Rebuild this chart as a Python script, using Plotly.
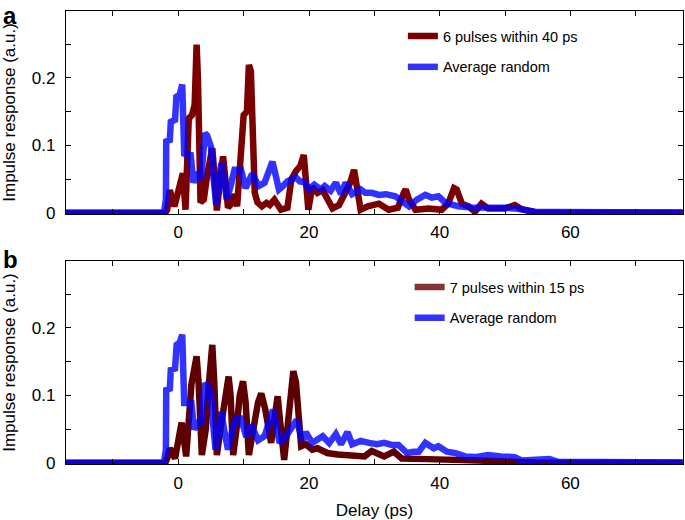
import plotly.graph_objects as go

# ---------------- data ----------------
# Panel a: "6 pulses within 40 ps"
a_red_x = [-17.2, -2.0, -1.7, -1.3, -0.6, 0.2, 0.7, 1.1, 1.4, 1.6, 2.1, 2.5, 2.8, 3.0, 3.4, 3.9, 4.4, 4.9, 5.2, 5.5,
           5.9, 6.4, 6.85, 7.2, 7.6, 8.2, 8.6, 9.0, 9.3, 9.6, 10.0, 10.5, 10.8, 11.1, 11.4, 11.7, 12.1, 12.8, 13.5,
           14.0, 14.7, 15.7, 16.7, 17.3, 18.0, 18.7, 19.2, 19.5, 19.9, 20.5, 21.3, 22.1, 23.0, 23.6, 24.6, 25.6,
           26.3, 26.9, 27.3, 27.9, 29.0, 30.7, 32.2, 33.6, 34.5, 34.8, 35.3, 36.3, 38.3, 40.3, 41.3, 42.2, 42.6,
           43.4, 44.4, 45.4, 46.4, 47.4, 50.0, 51.5, 52.5, 54.0, 55.0, 77.2]
a_red_y = [0.0, 0.0, 0.005, 0.034, 0.01, 0.04, 0.059, 0.005, 0.09, 0.14, 0.145, 0.16, 0.249, 0.2, 0.016, 0.02, 0.055,
           0.09, 0.096, 0.06, 0.004, 0.05, 0.084, 0.05, 0.008, 0.015, 0.028, 0.01, 0.06, 0.106, 0.145, 0.15, 0.219,
           0.21, 0.07, 0.03, 0.016, 0.01, 0.015, 0.012, 0.02, 0.005, 0.008, 0.05, 0.062, 0.07, 0.086, 0.06, 0.005,
           0.039, 0.03, 0.034, 0.015, 0.007, 0.012, 0.03, 0.045, 0.064, 0.04, 0.005, 0.01, 0.014, 0.005, 0.008,
           0.03, 0.035, 0.02, 0.005, 0.007, 0.005, 0.014, 0.037, 0.035, 0.014, 0.01, 0.002, 0.014, 0.007, 0.007,
           0.012, 0.006, 0.002, 0.0005, 0.0005]

a_blue_x = [-17.2, -2.2, -1.9, -1.85, -1.3, -1.15, -0.5, -0.3, 0.2, 0.35, 0.6, 0.9, 1.9, 2.3, 2.8, 3.5, 4.06, 4.4,
            5.0, 5.3, 5.8, 6.2, 6.6, 7.0, 7.4, 8.0, 8.6, 9.6, 10.3, 11.3, 12.3, 13.2, 13.9, 14.4, 14.8, 15.4, 16.0,
            16.7, 17.5, 18.0, 18.6, 19.3, 20.0, 20.8, 21.8, 22.4, 23.3, 24.1, 24.9, 25.6, 26.6, 27.9, 28.6, 29.6,
            30.7, 31.8, 33.2, 34.0, 35.3, 36.5, 37.8, 38.8, 39.8, 40.9, 42.9, 44.9, 47.4, 50.0, 52.0, 54.5, 57.5,
            77.2]
a_blue_y = [0.001, 0.001, 0.02, 0.106, 0.108, 0.135, 0.138, 0.172, 0.175, 0.19, 0.19, 0.088, 0.086, 0.045, 0.06,
            0.05, 0.118, 0.115, 0.098, 0.06, 0.012, 0.05, 0.074, 0.05, 0.02, 0.04, 0.064, 0.064, 0.037, 0.058, 0.04,
            0.045, 0.066, 0.076, 0.06, 0.035, 0.04, 0.047, 0.05, 0.053, 0.047, 0.046, 0.035, 0.042, 0.035, 0.04,
            0.033, 0.045, 0.028, 0.045, 0.028, 0.035, 0.03, 0.03, 0.027, 0.028, 0.025, 0.02, 0.01, 0.02, 0.027,
            0.023, 0.025, 0.015, 0.01, 0.0085, 0.009, 0.008, 0.0065, 0.002, 0.0015, 0.001]

# Panel b: "7 pulses within 15 ps"
b_red_x = [-17.2, -2.0, -1.6, -1.3, -0.5, 0.0, 0.5, 1.2, 1.6, 2.0, 2.8, 3.1, 3.6, 4.2, 4.7, 5.2, 5.5, 5.9, 6.6, 7.2,
           7.7, 8.0, 8.4, 8.9, 9.4, 9.9, 10.3, 10.8, 11.4, 12.2, 12.7, 13.3, 14.2, 14.8, 15.2, 15.6, 16.2, 17.0,
           17.6, 18.0, 18.8, 19.5, 20.5, 21.3, 22.8, 24.4, 25.9, 27.4, 28.5, 29.6, 30.3, 31.5, 33.0, 34.2, 38.0,
           43.3, 45.9, 51.0, 55.0, 77.2]
b_red_y = [0.0, 0.0, 0.01, 0.022, 0.007, 0.03, 0.06, 0.01, 0.06, 0.116, 0.158, 0.12, 0.012, 0.05, 0.12, 0.175, 0.12,
           0.012, 0.06, 0.1, 0.128, 0.1, 0.012, 0.05, 0.1, 0.121, 0.09, 0.012, 0.05, 0.09, 0.103, 0.08, 0.03, 0.08,
           0.099, 0.06, 0.005, 0.08, 0.136, 0.12, 0.025, 0.028, 0.02, 0.022, 0.015, 0.013, 0.012, 0.009, 0.01,
           0.018, 0.015, 0.01, 0.017, 0.007, 0.006, 0.006, 0.004, 0.002, 0.0005, 0.0005]

b_blue_x = [-17.2, -2.2, -1.9, -1.85, -1.3, -1.15, -0.5, -0.25, 0.2, 0.36, 0.6, 0.9, 2.0, 2.4, 3.0, 3.5, 4.06, 4.4,
            5.0, 5.3, 5.7, 6.2, 6.6, 7.0, 7.6, 8.3, 8.9, 9.6, 10.4, 11.2, 12.2, 13.2, 14.0, 14.5, 14.9, 15.5, 16.5,
            17.4, 18.1, 19.0, 19.5, 20.5, 21.3, 22.1, 23.1, 24.1, 24.9, 25.9, 26.6, 27.9, 29.2, 30.4, 31.5, 32.7,
            33.7, 35.0, 36.0, 36.8, 37.8, 39.1, 39.8, 41.1, 42.4, 43.9, 45.4, 47.4, 49.4, 51.5, 52.5, 55.0, 56.8,
            58.1, 77.2]
b_blue_y = [0.001, 0.001, 0.02, 0.108, 0.11, 0.138, 0.14, 0.175, 0.178, 0.19, 0.19, 0.089, 0.089, 0.05, 0.06, 0.06,
            0.118, 0.115, 0.104, 0.06, 0.02, 0.05, 0.076, 0.05, 0.02, 0.05, 0.066, 0.066, 0.039, 0.056, 0.034, 0.04,
            0.06, 0.079, 0.06, 0.03, 0.04, 0.055, 0.064, 0.033, 0.046, 0.03, 0.036, 0.04, 0.03, 0.043, 0.028, 0.046,
            0.028, 0.033, 0.03, 0.028, 0.03, 0.027, 0.027, 0.015, 0.017, 0.017, 0.03, 0.022, 0.025, 0.017, 0.015,
            0.01, 0.009, 0.012, 0.01, 0.009, 0.004, 0.004, 0.006, 0.002, 0.001]

x_tickvals = [-10, 0, 10, 20, 30, 40, 50, 60, 70]
x_ticktext = ["", "0", "", "20", "", "40", "", "60", ""]
y_tickvals = [0, 0.05, 0.1, 0.15, 0.2, 0.25]
y_ticktext = ["0", "", "0.1", "", "0.2", ""]

names_a = ["6 pulses within 40 ps", "Average random"]
names_b = ["7 pulses within 15 ps", "Average random"]

# ---------------- styling ----------------
RED_A = "#7b0000"
RED_B = "#5e0000"
RED_B_LEG = "#863232"
BLUE = "rgba(0,0,255,0.8)"
LW = 6.5
FONT = "Liberation Sans, Arial, Helvetica, sans-serif"

fig = go.Figure()
fig.add_trace(go.Scatter(x=a_red_x, y=a_red_y, mode="lines", name=names_a[0],
                         line=dict(color=RED_A, width=LW), xaxis="x", yaxis="y",
                         legend="legend", legendgroup="a1"))
fig.add_trace(go.Scatter(x=a_blue_x, y=a_blue_y, mode="lines", name=names_a[1],
                         line=dict(color=BLUE, width=LW), xaxis="x", yaxis="y",
                         legend="legend", legendgroup="a2"))
fig.add_trace(go.Scatter(x=b_red_x, y=b_red_y, mode="lines", name=names_b[0], showlegend=False,
                         line=dict(color=RED_B, width=LW), xaxis="x2", yaxis="y2"))
fig.add_trace(go.Scatter(x=[None], y=[None], mode="lines", name=names_b[0],
                         line=dict(color=RED_B_LEG, width=LW), xaxis="x2", yaxis="y2",
                         legend="legend2", legendgroup="b1"))
fig.add_trace(go.Scatter(x=b_blue_x, y=b_blue_y, mode="lines", name=names_b[1],
                         line=dict(color=BLUE, width=LW), xaxis="x2", yaxis="y2",
                         legend="legend2", legendgroup="b2"))

xcommon = dict(range=[-17.19, 77.24], tickmode="array", tickvals=x_tickvals, ticktext=x_ticktext,
               ticks="inside", ticklen=5, tickcolor="black", showline=True, linecolor="black",
               linewidth=1.2, mirror="ticks", showgrid=False, zeroline=False, automargin=False,
               ticklabelstandoff=3,
               tickfont=dict(size=17, color="black", family=FONT))
ycommon = dict(range=[-0.0012, 0.2988], tickmode="array", tickvals=y_tickvals, ticktext=y_ticktext,
               ticks="inside", ticklen=5, tickcolor="black", showline=True, linecolor="black",
               linewidth=1.2, mirror="ticks", showgrid=False, zeroline=False, automargin=False,
               ticklabelstandoff=6,
               tickfont=dict(size=17, color="black", family=FONT),
               title=dict(text="Impulse response (a.u.)", font=dict(size=17, color="black", family=FONT),
                          standoff=12))

leg_common = dict(font=dict(size=14.5, color="black", family=FONT), bgcolor="rgba(0,0,0,0)",
                  borderwidth=0, tracegroupgap=9, traceorder="grouped",
                  xanchor="left", yanchor="top", itemwidth=30)

fig.update_layout(
    width=685, height=520,
    margin=dict(l=66, r=2, t=11, b=56, autoexpand=False),
    paper_bgcolor="white", plot_bgcolor="white",
    font=dict(family=FONT, color="black"),
    xaxis=dict(domain=[0, 1], anchor="y", **xcommon),
    yaxis=dict(domain=[0.552, 1], anchor="x", **ycommon),
    xaxis2=dict(domain=[0, 1], anchor="y2",
                title=dict(text="Delay (ps)", font=dict(size=17, color="black", family=FONT), standoff=16),
                **xcommon),
    yaxis2=dict(domain=[0, 0.448], anchor="x2", **ycommon),
    legend=dict(x=0.546, y=0.98, **leg_common),
    legend2=dict(x=0.557, y=0.426, **leg_common),
    annotations=[
        dict(text="<b>a</b>", xref="paper", yref="paper", x=-0.105, y=1.0235, xanchor="left", yanchor="top",
             showarrow=False, font=dict(size=24, color="black", family=FONT)),
        dict(text="<b>b</b>", xref="paper", yref="paper", x=-0.105, y=0.486, xanchor="left", yanchor="top",
             showarrow=False, font=dict(size=24, color="black", family=FONT)),
    ],
)

fig.write_html("out.html", config={"displayModeBar": False},
               post_script="document.body.style.margin='0px';document.body.style.padding='0px';")
